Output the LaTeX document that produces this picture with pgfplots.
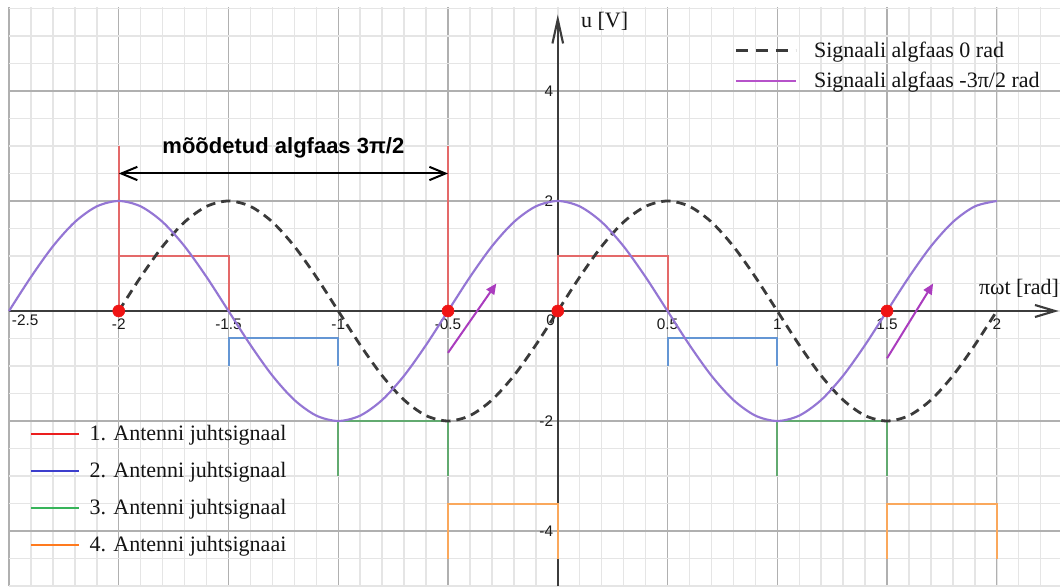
\documentclass[border=0pt]{standalone}
\usepackage{fontspec}
\setmainfont{Liberation Serif}
\newfontfamily\arialfont{Liberation Sans}
\usepackage{pgfplots}
\pgfplotsset{compat=1.18}
\usetikzlibrary{arrows.meta}

\definecolor{curvepurple}{RGB}{148,118,212}
\definecolor{dashgray}{RGB}{58,58,58}
\definecolor{axisgray}{RGB}{60,60,60}
\definecolor{sigred}{RGB}{228,105,105}
\definecolor{sigblue}{RGB}{100,150,212}
\definecolor{siggreen}{RGB}{98,170,112}
\definecolor{sigorange}{RGB}{250,168,92}
\definecolor{arrowmag}{RGB}{170,60,190}
\definecolor{legred}{RGB}{235,30,30}
\definecolor{legblue}{RGB}{60,62,205}
\definecolor{leggreen}{RGB}{55,180,90}
\definecolor{legorange}{RGB}{255,122,30}
\definecolor{legpurple}{RGB}{182,82,202}
\definecolor{dotred}{RGB}{240,20,20}

\pgfplotsset{
  common/.style={
    at={(6.75pt,0pt)}, anchor=south west,
    scale only axis, width=788.25pt, height=434.25pt,
    xmin=-2.5, xmax=2.288, ymin=-5, ymax=5.527,
  },
}

\newcommand{\tickfont}{\arialfont\fontsize{11.5}{13}\selectfont}

\begin{document}
\begin{tikzpicture}
\useasboundingbox[fill=white] (0,0) rectangle (795pt,439.5pt);
\begin{axis}[
  common,
  clip=false,
  axis lines=middle,
  axis line style={draw=none},
  xtick={-2.5,-2,-1.5,-1,-0.5,0.5,1,1.5,2},
  xticklabels={,-2,-1.5,-1,-0.5,0.5,1,1.5,2},
  ytick={-4,-2,2,4},
  yticklabels={-4,-2,2,4},
  minor xtick={-2.5,-2.4,...,2.25},
  minor ytick={-5,-4.5,...,5.5},
  grid=both,
  major grid style={draw=gray!62, line width=1pt},
  minor grid style={draw=gray!20, line width=1.1pt},
  major tick length=0pt, minor tick length=0pt,
  tick label style={font=\tickfont, text=black!90},
  xticklabel style={anchor=north, yshift=-2.5pt},
  yticklabel style={anchor=east, xshift=0pt},
  legend style={at={(axis cs:0.786,4.99)}, anchor=north west, draw=none, fill=none,
    font=\fontsize{16.5}{19}\selectfont, text=black!92, row sep=5.5pt},
  legend cell align=left,
  legend image code/.code={\draw[#1] (0pt,0pt) -- (45pt,0pt); \path (55.5pt,0pt);},
]
% coordinate axes
\draw[axisgray, line width=1.1pt, -{Straight Barb[length=15pt,width=9pt,line width=1.6pt]}]
  (axis cs:-2.5,0) -- (axis cs:2.282,0);
\draw[axisgray, line width=1.1pt, -{Straight Barb[length=18pt,width=8pt,line width=1.6pt]}]
  (axis cs:0,-5) -- (axis cs:0,5.39);
\node[anchor=north east, inner sep=2pt, yshift=-1pt, font=\tickfont, text=black!90] at (axis cs:0,0) {0};
\node[anchor=north west, inner sep=2pt, yshift=-1pt, font=\tickfont, text=black!90] at (axis cs:-2.5,0) {-2.5};

% control signals of the four antennas
\addplot[sigred, line width=1.5pt, forget plot] coordinates {(-2,3) (-2,1) (-1.5,1) (-1.5,0)};
\addplot[sigred, line width=1.5pt, forget plot] coordinates {(-2,0) (-2,1)};
\addplot[sigred, line width=1.5pt, forget plot] coordinates {(-0.5,3) (-0.5,0)};
\addplot[sigred, line width=1.5pt, forget plot] coordinates {(0,0) (0,1) (0.5,1) (0.5,0)};
\addplot[sigblue, line width=1.5pt, forget plot] coordinates {(-1.5,-1) (-1.5,-0.5) (-1,-0.5) (-1,-1)};
\addplot[sigblue, line width=1.5pt, forget plot] coordinates {(0.5,-1) (0.5,-0.5) (1,-0.5) (1,-1)};
\addplot[siggreen, line width=1.5pt, forget plot] coordinates {(-1,-3) (-1,-2) (-0.5,-2) (-0.5,-3)};
\addplot[siggreen, line width=1.5pt, forget plot] coordinates {(1,-3) (1,-2) (1.5,-2) (1.5,-3)};
\addplot[sigorange, line width=1.5pt, forget plot] coordinates {(-0.5,-4.5) (-0.5,-3.5) (0,-3.5) (0,-4.5)};
\addplot[sigorange, line width=1.5pt, forget plot] coordinates {(1.5,-4.5) (1.5,-3.5) (2,-3.5) (2,-4.5)};

% signal with initial phase 0 rad
\addplot[dashgray, line width=2.1pt, dash pattern=on 7pt off 4.5pt, smooth, forget plot] coordinates {
(-2,0) (-1.9,0.618) (-1.8,1.176) (-1.7,1.618) (-1.6,1.902) (-1.5,2)
(-1.4,1.902) (-1.3,1.618) (-1.2,1.176) (-1.1,0.618) (-1,0)
(-0.9,-0.618) (-0.8,-1.176) (-0.7,-1.618) (-0.6,-1.902) (-0.5,-2)
(-0.4,-1.902) (-0.3,-1.618) (-0.2,-1.176) (-0.1,-0.618) (0,0)
(0.1,0.618) (0.2,1.176) (0.3,1.618) (0.4,1.902) (0.5,2)
(0.6,1.902) (0.7,1.618) (0.8,1.176) (0.9,0.618) (1,0)
(1.1,-0.618) (1.2,-1.176) (1.3,-1.618) (1.4,-1.902) (1.5,-2)
(1.6,-1.902) (1.7,-1.618) (1.8,-1.176) (1.9,-0.618) (2,0)};

% signal with initial phase -3pi/2 rad
\addplot[curvepurple, line width=1.6pt, smooth, forget plot] coordinates {
(-2.5,0) (-2.4,0.618) (-2.3,1.176) (-2.2,1.618) (-2.1,1.902) (-2,2)
(-1.9,1.902) (-1.8,1.618) (-1.7,1.176) (-1.6,0.618) (-1.5,0)
(-1.4,-0.618) (-1.3,-1.176) (-1.2,-1.618) (-1.1,-1.902) (-1,-2)
(-0.9,-1.902) (-0.8,-1.618) (-0.7,-1.176) (-0.6,-0.618) (-0.5,0)
(-0.4,0.618) (-0.3,1.176) (-0.2,1.618) (-0.1,1.902) (0,2)
(0.1,1.902) (0.2,1.618) (0.3,1.176) (0.4,0.618) (0.5,0)
(0.6,-0.618) (0.7,-1.176) (0.8,-1.618) (0.9,-1.902) (1,-2)
(1.1,-1.902) (1.2,-1.618) (1.3,-1.176) (1.4,-0.618) (1.5,0)
(1.6,0.618) (1.7,1.176) (1.8,1.618) (1.9,1.902) (2,2)};

% rising-edge direction arrows
\addplot[arrowmag, line width=1.5pt, -{Triangle[length=8pt,width=7pt]}, forget plot] coordinates {(-0.5,-0.76) (-0.28,0.5)};
\addplot[arrowmag, line width=1.5pt, -{Triangle[length=8pt,width=7pt]}, forget plot] coordinates {(1.5,-0.86) (1.71,0.5)};

% measured phase span
\addplot[black, line width=1.5pt, {Straight Barb[length=12pt,width=10pt,line width=1.5pt]}-{Straight Barb[length=12pt,width=10pt,line width=1.5pt]}, forget plot]
  coordinates {(-2,2.5) (-0.5,2.5)};
\node[font=\arialfont\bfseries\fontsize{16.5}{19}\selectfont] at (axis cs:-1.25,2.96) {mõõdetud algfaas 3π/2};

% zero crossings
\addplot[only marks, mark=*, mark size=4.5pt, color=dotred, forget plot] coordinates {(-2,0) (-0.5,0) (0,0) (1.5,0)};

% axis names
\node[anchor=west, inner sep=0pt, font=\fontsize{16.5}{19}\selectfont, text=black!92] at (axis cs:0.105,5.27) {u [V]};
\node[anchor=west, inner sep=0pt, font=\fontsize{16.5}{19}\selectfont, text=black!92] at (axis cs:1.918,0.42) {πωt [rad]};

\addlegendimage{dashgray, line width=2.1pt, dash pattern=on 9pt off 6pt}
\addlegendentry{Signaali algfaas 0 rad}
\addlegendimage{legpurple, line width=1.5pt}
\addlegendentry{Signaali algfaas -3π/2 rad}
\end{axis}

\begin{axis}[
  common,
  hide axis,
  legend style={at={(axis cs:-2.424,-1.98)}, anchor=north west, draw=none, fill=none,
    font=\fontsize{16.5}{19}\selectfont, text=black!92, row sep=10.75pt},
  legend cell align=left,
  legend image code/.code={\draw[#1] (0pt,0pt) -- (36pt,0pt); \path (41.25pt,0pt);},
]
\addlegendimage{legred, line width=1.5pt}
\addlegendentry{1. Antenni juhtsignaal}
\addlegendimage{legblue, line width=1.5pt}
\addlegendentry{2. Antenni juhtsignaal}
\addlegendimage{leggreen, line width=1.5pt}
\addlegendentry{3. Antenni juhtsignaal}
\addlegendimage{legorange, line width=1.5pt}
\addlegendentry{4. Antenni juhtsignaai}
\end{axis}
\end{tikzpicture}
\end{document}
